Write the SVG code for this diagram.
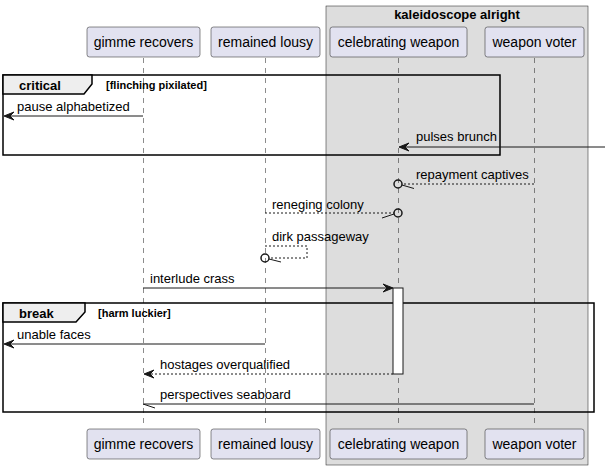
<svg xmlns="http://www.w3.org/2000/svg" width="609" height="470" viewBox="0 0 609 470">
<style>
.part rect{fill:#E2E2F0;stroke:#181818;stroke-width:0.5}
.pt{font-family:"Liberation Sans",Arial,sans-serif;font-size:14px;fill:#000;text-anchor:middle}
.life{stroke:#181818;stroke-width:0.5;stroke-dasharray:5,5;fill:none}
.msg{stroke:#181818;stroke-width:1;fill:none}
.dash{stroke:#181818;stroke-width:1;stroke-dasharray:2,2;fill:none}
.head{fill:#181818;stroke:#181818;stroke-width:1}
.circ{fill:none;stroke:#181818;stroke-width:1.5}
.mt{font-family:"Liberation Sans",Arial,sans-serif;font-size:13px;fill:#000}
.frame{fill:none;stroke:#000;stroke-width:1.5}
.tab{fill:#EEEEEE;stroke:#000;stroke-width:1.5}
.ft{font-family:"Liberation Sans",Arial,sans-serif;font-size:13px;font-weight:bold;fill:#000}
.fc{font-family:"Liberation Sans",Arial,sans-serif;font-size:11px;font-weight:bold;fill:#000}
</style>
<rect width="609" height="470" fill="#FFFFFF"/>
<g id="box-kaleidoscope">
<rect x="326" y="6" width="262" height="459" fill="#DDDDDD" stroke="#181818" stroke-width="0.5"/>
<text x="457" y="19" class="ft" text-anchor="middle">kaleidoscope alright</text>
</g>
<g id="lifelines">
<line class="life" x1="143.5" y1="58" x2="143.5" y2="428"/>
<line class="life" x1="265.5" y1="58" x2="265.5" y2="428"/>
<line class="life" x1="398.5" y1="58" x2="398.5" y2="428"/>
<line class="life" x1="534.5" y1="58" x2="534.5" y2="428"/>
</g>
<g id="frame-critical">
<rect class="frame" x="3" y="75" width="497" height="80"/>
<path class="tab" d="M3,75 L92,75 L92,84 L84,94 L3,94 Z"/>
<text x="19" y="90" class="ft">critical</text>
<text x="106" y="89" class="fc">[flinching pixilated]</text>
</g>
<g id="frame-break">
<rect class="frame" x="3" y="303" width="591" height="109"/>
<path class="tab" d="M3,303 L85,303 L85,312 L76,322 L3,322 Z"/>
<text x="19" y="318" class="ft">break</text>
<text x="98" y="317" class="fc">[harm luckier]</text>
</g>
<g id="activation">
<rect x="393" y="288" width="10" height="86" fill="#FFFFFF" stroke="#181818" stroke-width="1"/>
</g>
<g id="connectors">
<line class="msg" x1="143" y1="116" x2="5" y2="116"/>
<polygon class="head" points="4,116 14,112 10,116 14,120"/>
<text x="17" y="111" class="mt">pause alphabetized</text>

<line class="msg" x1="605" y1="147" x2="400" y2="147"/>
<polygon class="head" points="399,147 409,143 405,147 409,151"/>
<text x="416" y="141" class="mt">pulses brunch</text>

<line class="dash" x1="534" y1="184" x2="402" y2="184"/>
<circle class="circ" cx="398" cy="184" r="4"/>
<line class="msg" x1="402" y1="185" x2="414" y2="188.5"/>
<text x="416" y="179" class="mt">repayment captives</text>

<line class="dash" x1="265" y1="213" x2="394" y2="213"/>
<circle class="circ" cx="398" cy="213" r="4"/>
<line class="msg" x1="394" y1="214" x2="382" y2="218"/>
<text x="272" y="209" class="mt">reneging colony</text>

<polyline class="dash" points="265,246 307,246 307,258 269,258"/>
<circle class="circ" cx="265" cy="258" r="4"/>
<line class="msg" x1="269" y1="259" x2="281" y2="262"/>
<text x="272" y="241" class="mt">dirk passageway</text>

<line class="msg" x1="143" y1="288" x2="392" y2="288"/>
<polygon class="head" points="393,288 383,284 387,288 383,292"/>
<text x="150" y="283" class="mt">interlude crass</text>

<line class="msg" x1="265" y1="344" x2="5" y2="344"/>
<polygon class="head" points="4,344 14,340 10,344 14,348"/>
<text x="17" y="339" class="mt">unable faces</text>

<line class="dash" x1="393" y1="374" x2="145" y2="374"/>
<polygon class="head" points="144,374 154,370 150,374 154,378"/>
<text x="160" y="369" class="mt">hostages overqualified</text>

<line class="msg" x1="534" y1="404" x2="143" y2="404"/>
<line class="msg" x1="143" y1="404" x2="155" y2="408"/>
<text x="160" y="399" class="mt">perspectives seaboard</text>
</g>
<g id="p-gimme-top" class="part"><rect x="87" y="27" width="113" height="30" rx="2.5"/><text x="143.5" y="47" class="pt">gimme recovers</text></g>
<g id="p-remained-top" class="part"><rect x="211" y="27" width="109" height="30" rx="2.5"/><text x="265.5" y="47" class="pt">remained lousy</text></g>
<g id="p-celebrating-top" class="part"><rect x="330" y="27" width="137" height="30" rx="2.5"/><text x="398.5" y="47" class="pt">celebrating weapon</text></g>
<g id="p-voter-top" class="part"><rect x="485" y="27" width="99" height="30" rx="2.5"/><text x="534.5" y="47" class="pt">weapon voter</text></g>
<g id="p-gimme-bottom" class="part"><rect x="87" y="429" width="113" height="30" rx="2.5"/><text x="143.5" y="449" class="pt">gimme recovers</text></g>
<g id="p-remained-bottom" class="part"><rect x="211" y="429" width="109" height="30" rx="2.5"/><text x="265.5" y="449" class="pt">remained lousy</text></g>
<g id="p-celebrating-bottom" class="part"><rect x="330" y="429" width="137" height="30" rx="2.5"/><text x="398.5" y="449" class="pt">celebrating weapon</text></g>
<g id="p-voter-bottom" class="part"><rect x="485" y="429" width="99" height="30" rx="2.5"/><text x="534.5" y="449" class="pt">weapon voter</text></g>
</svg>
